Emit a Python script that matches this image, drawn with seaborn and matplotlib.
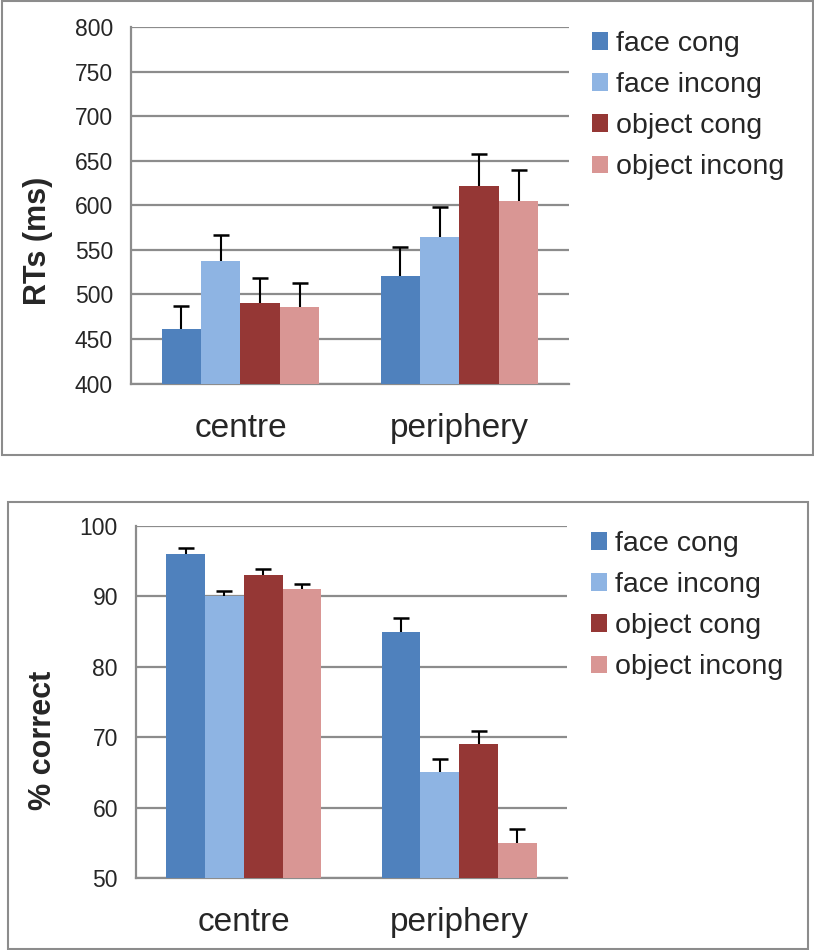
import pandas as pd
import matplotlib
matplotlib.use("Agg")
import matplotlib.pyplot as plt
from matplotlib.patches import Patch, Rectangle
import seaborn as sns

# Dados
locations = ["centre", "periphery"]
conditions = ["face cong", "face incong", "object cong", "object incong"]
colors = ["#4F81BD", "#8EB4E3", "#953735", "#D99694"]

rt_centre = [461, 537, 490, 486]
rt_periphery = [521, 564, 622, 605]
rt_err_centre = [26, 30, 28, 27]
rt_err_periphery = [32, 34, 35, 34]

acc_centre = [96, 90, 93, 91]
acc_periphery = [85, 65, 69, 55]
acc_err_centre = [0.9, 0.8, 0.9, 0.8]
acc_err_periphery = [1.9, 1.9, 1.9, 1.9]

rt_ticks = [400, 450, 500, 550, 600, 650, 700, 750, 800]
acc_ticks = [50, 60, 70, 80, 90, 100]

W, H = 814, 950
GRID = "#8C8C8C"


def make_df(centre, periphery, err_c, err_p):
    rows = []
    for loc, vals, errs in [("centre", centre, err_c), ("periphery", periphery, err_p)]:
        for cond, v, e in zip(conditions, vals, errs):
            rows.append({"loc": loc, "cond": cond, "value": v, "err": e})
    return pd.DataFrame(rows)


def px_axes(fig, left, top, right, bottom):
    return fig.add_axes([left / W, 1 - bottom / H, (right - left) / W, (bottom - top) / H])


def draw_panel(ax, df, ticks, ylabel, label_xy):
    sns.barplot(data=df, x="loc", y="value", hue="cond", order=locations, hue_order=conditions,
                palette=colors, saturation=1, width=0.72, gap=0, errorbar=None, legend=False,
                linewidth=0, ax=ax, zorder=3)

    # Barras de erro só para cima, a partir das posições das barras
    for bar_i, patch in enumerate(ax.patches[:len(df)]):
        cond = conditions[bar_i // len(locations)]
        loc = locations[bar_i % len(locations)]
        row = df[(df["cond"] == cond) & (df["loc"] == loc)].iloc[0]
        xc = patch.get_x() + patch.get_width() / 2
        top = row["value"] + row["err"]
        ax.vlines(xc, row["value"], top, color="black", linewidth=1.5, zorder=4)
        ax.plot([xc], [top], marker="_", markersize=11, markeredgewidth=1.8,
                color="black", zorder=4)

    ax.set_ylim(ticks[0], ticks[-1])
    ax.set_xlim(-0.5, 1.5)
    ax.set_yticks(ticks)
    ax.set_yticklabels([str(t) for t in ticks])
    ax.yaxis.grid(True, color=GRID, linewidth=1.6, zorder=0)
    ax.xaxis.grid(False)
    ax.set_axisbelow(True)

    for s in ["top", "right"]:
        ax.spines[s].set_visible(False)
    for s in ["left", "bottom"]:
        ax.spines[s].set_color(GRID)
        ax.spines[s].set_linewidth(1.6)

    ax.tick_params(axis="y", length=5, width=1.4, color=GRID, labelsize=16.5, pad=8)
    ax.tick_params(axis="x", which="major", length=0, labelsize=24, pad=21)
    ax.set_xticks([-0.5, 0.5, 1.5], minor=True)
    ax.tick_params(axis="x", which="minor", length=7.5, width=1.4, color=GRID, direction="out")
    ax.set_xlabel("")
    ax.set_ylabel(ylabel, fontsize=22, fontweight="bold", va="center")
    ax.yaxis.set_label_coords(*label_xy)


sns.set_theme(style="white")
plt.rcParams["font.family"] = ["Liberation Sans", "DejaVu Sans"]

fig = plt.figure(figsize=(W / 100, H / 100), dpi=100)
fig.patch.set_facecolor("white")

# Caixas dos dois painéis
fig.add_artist(Rectangle((1.5 / W, 1 - 455.5 / H), 811 / W, 454 / H, transform=fig.transFigure,
                         fill=False, edgecolor=GRID, linewidth=1.5))
fig.add_artist(Rectangle((7.5 / W, 1 - 948.5 / H), 800.5 / W, 447 / H, transform=fig.transFigure,
                         fill=False, edgecolor=GRID, linewidth=1.5))

ax1 = px_axes(fig, 131, 27, 569, 383.5)
rt_df = make_df(rt_centre, rt_periphery, rt_err_centre, rt_err_periphery)
draw_panel(ax1, rt_df, rt_ticks, "RTs (ms)", (-0.213, 0.40))

ax2 = px_axes(fig, 136, 526, 567, 878)
acc_df = make_df(acc_centre, acc_periphery, acc_err_centre, acc_err_periphery)
draw_panel(ax2, acc_df, acc_ticks, "% correct", (-0.216, 0.39))

handles = [Patch(facecolor=c, edgecolor="none") for c in colors]
for ax, x0, ytop in [(ax1, 592, 31), (ax2, 591, 531)]:
    leg = ax.legend(handles, conditions, loc="upper left", bbox_to_anchor=(x0 / W, 1 - ytop / H),
                    bbox_transform=fig.transFigure, frameon=False, fontsize=20.5,
                    handlelength=0.56, handleheight=0.56, handletextpad=0.28,
                    labelspacing=0.53, borderpad=0, borderaxespad=0)

fig.savefig("out.png", dpi=100)
